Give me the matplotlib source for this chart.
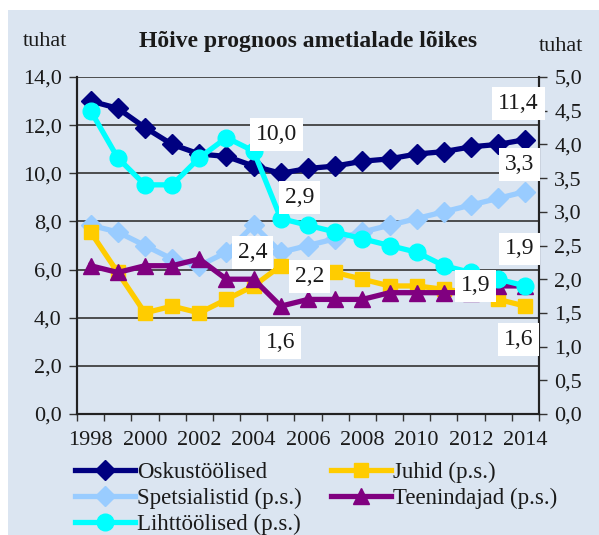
import matplotlib
matplotlib.use("Agg")
import matplotlib.pyplot as plt
from matplotlib.patches import Rectangle
from matplotlib.ticker import FuncFormatter

plt.rcParams["font.family"] = ["Liberation Serif", "DejaVu Serif"]

years = list(range(1998, 2015))
year_labels = [str(y) if y % 2 == 0 else "" for y in years]

oskus = [13.0, 12.7, 11.9, 11.2, 10.8, 10.7, 10.3, 10.0, 10.2, 10.3, 10.5, 10.6, 10.8, 10.9, 11.1, 11.2, 11.4]
spets = [2.8, 2.7, 2.5, 2.3, 2.2, 2.4, 2.8, 2.4, 2.5, 2.6, 2.7, 2.8, 2.9, 3.0, 3.1, 3.2, 3.3]
liht = [4.5, 3.8, 3.4, 3.4, 3.8, 4.1, 3.9, 2.9, 2.8, 2.7, 2.6, 2.5, 2.4, 2.2, 2.1, 2.0, 1.9]
juhid = [2.7, 2.1, 1.5, 1.6, 1.5, 1.7, 1.9, 2.2, 2.15, 2.1, 2.0, 1.9, 1.9, 1.85, 1.8, 1.7, 1.6]
teen = [2.2, 2.1, 2.2, 2.2, 2.3, 2.0, 2.0, 1.6, 1.7, 1.7, 1.7, 1.8, 1.8, 1.8, 1.8, 1.9, 1.9]

bg = "#DBE5F1"
txt = "#1a1a1a"

fig = plt.figure(figsize=(5.99, 5.35), dpi=100)
fig.patches.append(Rectangle((8 / 599, 0), 1, 525 / 535, transform=fig.transFigure,
                             facecolor=bg, edgecolor="none", zorder=-10))

ax = fig.add_axes([77 / 599, 121 / 535, 462 / 599, 337 / 535])
ax.set_facecolor("none")
ax2 = ax.twinx()
ax2.set_facecolor("none")

x = list(range(len(years)))
lw = 3.8
l1, = ax.plot(x, oskus, color="#000080", lw=lw, marker="D", ms=10, label="Oskustöölised")
l2, = ax2.plot(x, spets, color="#99CCFF", lw=lw, marker="D", ms=10, label="Spetsialistid (p.s.)")
l4, = ax2.plot(x, juhid, color="#FFCC00", lw=lw, marker="s", ms=10.5, label="Juhid (p.s.)")
l5, = ax2.plot(x, teen, color="#800080", lw=lw, marker="^", ms=12, label="Teenindajad (p.s.)")
l3, = ax2.plot(x, liht, color="#00FFFF", lw=lw, marker="o", ms=12, label="Lihttöölised (p.s.)")

ax.set_xlim(-0.5, len(years) - 0.5)
ax.set_ylim(0, 14)
ax2.set_ylim(0, 5)
ax.set_yticks(range(0, 15, 2))
ax2.set_yticks([i * 0.5 for i in range(11)])
fmt = FuncFormatter(lambda v, p: f"{v:.1f}".replace(".", ","))
ax.yaxis.set_major_formatter(fmt)
ax2.yaxis.set_major_formatter(fmt)

ax.set_xticks([i - 0.5 for i in range(len(years) + 1)])
ax.set_xticklabels([])
ax.set_xticks(x, minor=True)
ax.set_xticklabels(year_labels, minor=True)
ax.tick_params(axis="x", which="major", length=5, width=1, color="#333333", direction="out")
ax.tick_params(axis="x", which="minor", length=0, pad=12, labelsize=16, labelcolor=txt)
ax.tick_params(axis="y", length=6, width=1, color="#333333", labelsize=16, labelcolor=txt, pad=5)
ax2.tick_params(axis="y", length=6, width=1, color="#333333", labelsize=16, labelcolor=txt, pad=5)

ax.grid(axis="y", color="#333333", lw=1.2)
ax.set_axisbelow(True)
for a in (ax, ax2):
    a.spines["top"].set_visible(False)
    for s in ("left", "right", "bottom"):
        a.spines[s].set_color("#222222")
        a.spines[s].set_linewidth(1.5)

fig.text(308 / 599, 1 - 42 / 535, "Hõive prognoos ametialade lõikes", ha="center", va="center",
         fontsize=17, fontweight="bold", color=txt)
fig.text(23 / 599, 1 - 42 / 535, "tuhat", ha="left", va="center", fontsize=16, color=txt)
fig.text(539 / 599, 1 - 47 / 535, "tuhat", ha="left", va="center", fontsize=16, color=txt)


def lab(series, i, dx, dy, trans):
    v = series[i]
    ax2.annotate(f"{v:.1f}".replace(".", ","), xy=(i, v), xycoords=trans,
                 xytext=(dx, dy), textcoords="offset pixels", ha="center", va="center",
                 fontsize=17, color=txt, zorder=20,
                 bbox=dict(boxstyle="square,pad=0.25", facecolor="white", edgecolor="none"))


last = len(years) - 1
i05 = years.index(2005)
lab(oskus, last, -7, 36, ax.transData)
lab(oskus, i05, -4, 39, ax.transData)
lab(liht, i05, 19, 21, ax2.transData)
lab(spets, i05, -28, 0, ax2.transData)
lab(juhid, i05, 29, -11, ax2.transData)
lab(teen, i05, 0, -36, ax2.transData)
lab(spets, last, -6, 27, ax2.transData)
lab(liht, last, -6, 37, ax2.transData)
lab(teen, last, -50, 0, ax2.transData)
lab(juhid, last, -7, -33, ax2.transData)

fig.legend([l1, l2, l3, l4, l5], [h.get_label() for h in (l1, l2, l3, l4, l5)],
           loc="upper left", bbox_to_anchor=(75 / 599, 1 - 462 / 535), ncol=2,
           frameon=False, fontsize=16.5, handlelength=2.6, handletextpad=0.1,
           labelspacing=0.2, columnspacing=1.3, borderaxespad=0, borderpad=0,
           labelcolor=txt)

fig.savefig("out.png", dpi=100)
